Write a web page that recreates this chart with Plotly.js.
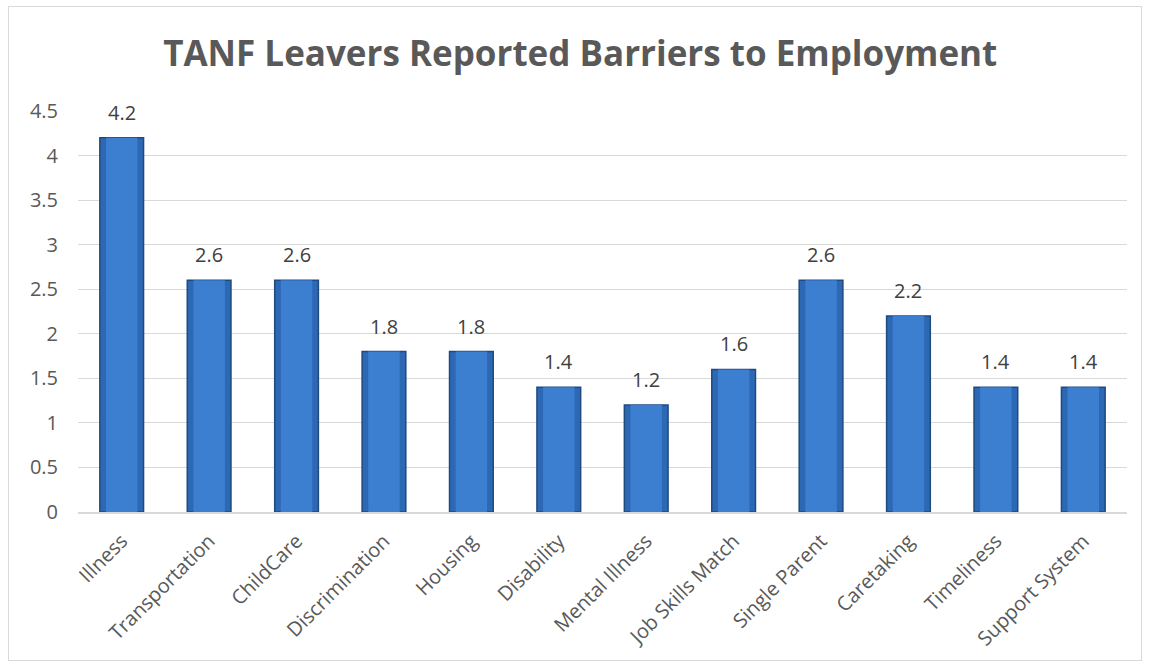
<!DOCTYPE html>
<html>
<head>
<meta charset="utf-8">
<script src="https://cdn.plot.ly/plotly-3.0.1.min.js"></script>
<style>
html,body{margin:0;padding:0;background:#fff;}
#wrap{position:relative;width:1149px;height:669px;}
#frame{position:absolute;left:8px;top:6px;width:1134px;height:655px;border:1px solid #d9d9d9;box-sizing:border-box;pointer-events:none;}
#chart{position:absolute;left:0;top:0;width:1149px;height:669px;}
</style>
</head>
<body>
<div id="wrap"><div id="chart"></div><div id="frame"></div></div>
<script>
const categories = ["Illness","Transportation","ChildCare","Discrimination","Housing","Disability","Mental Illness","Job Skills Match","Single Parent","Caretaking","Timeliness","Support System"];
const values = [4.2, 2.6, 2.6, 1.8, 1.8, 1.4, 1.2, 1.6, 2.6, 2.2, 1.4, 1.4];
const tickVals = [0, 0.5, 1, 1.5, 2, 2.5, 3, 3.5, 4, 4.5];
const tickText = ["0","0.5","1","1.5","2","2.5","3","3.5","4","4.5"];

const font = "Open Sans, Liberation Sans, sans-serif";

const baseBar = {
  type: "bar",
  x: categories,
  y: values,
  width: 0.5,
  marker: {color: "#2d68b5", line: {color: "#1f4a80", width: 1.5}},
  hoverinfo: "x+y"
};
const innerBar = {
  type: "bar",
  x: categories,
  y: values,
  width: 0.36,
  marker: {color: "#3c7fd0", line: {width: 0}},
  hoverinfo: "skip"
};

const annotations = categories.map((c, i) => ({
  x: c, y: values[i], xref: "x", yref: "y",
  text: values[i].toString(),
  showarrow: false, yanchor: "bottom", yshift: 10,
  font: {family: font, size: 20, color: "#404040"}
}));

const layout = {
  width: 1149, height: 669,
  margin: {l: 78, r: 22, t: 111, b: 157},
  paper_bgcolor: "rgba(0,0,0,0)",
  plot_bgcolor: "rgba(0,0,0,0)",
  barmode: "overlay",
  showlegend: false,
  annotations: annotations,
  title: {
    text: "<b>TANF Leavers Reported Barriers to Employment</b>",
    font: {family: font, size: 35, color: "#595959"},
    x: 0.505, xanchor: "center", y: 0.92, yanchor: "middle"
  },
  xaxis: {
    type: "category",
    tickangle: -45,
    tickfont: {family: font, size: 20, color: "#595959"},
    showgrid: false,
    showline: true, linecolor: "#d9d9d9", linewidth: 1.5,
    ticks: "outside", ticklen: 8, tickcolor: "rgba(0,0,0,0)"
  },
  yaxis: {
    range: [0, 4.5],
    tickvals: tickVals, ticktext: tickText,
    tickfont: {family: font, size: 20, color: "#595959"},
    showgrid: true, gridcolor: "#d9d9d9", gridwidth: 1,
    zeroline: false, showline: false,
    ticks: "outside", ticklen: 15, tickcolor: "rgba(0,0,0,0)"
  }
};

Plotly.newPlot("chart", [baseBar, innerBar], layout, {displayModeBar: false, staticPlot: true});
</script>
</body>
</html>
